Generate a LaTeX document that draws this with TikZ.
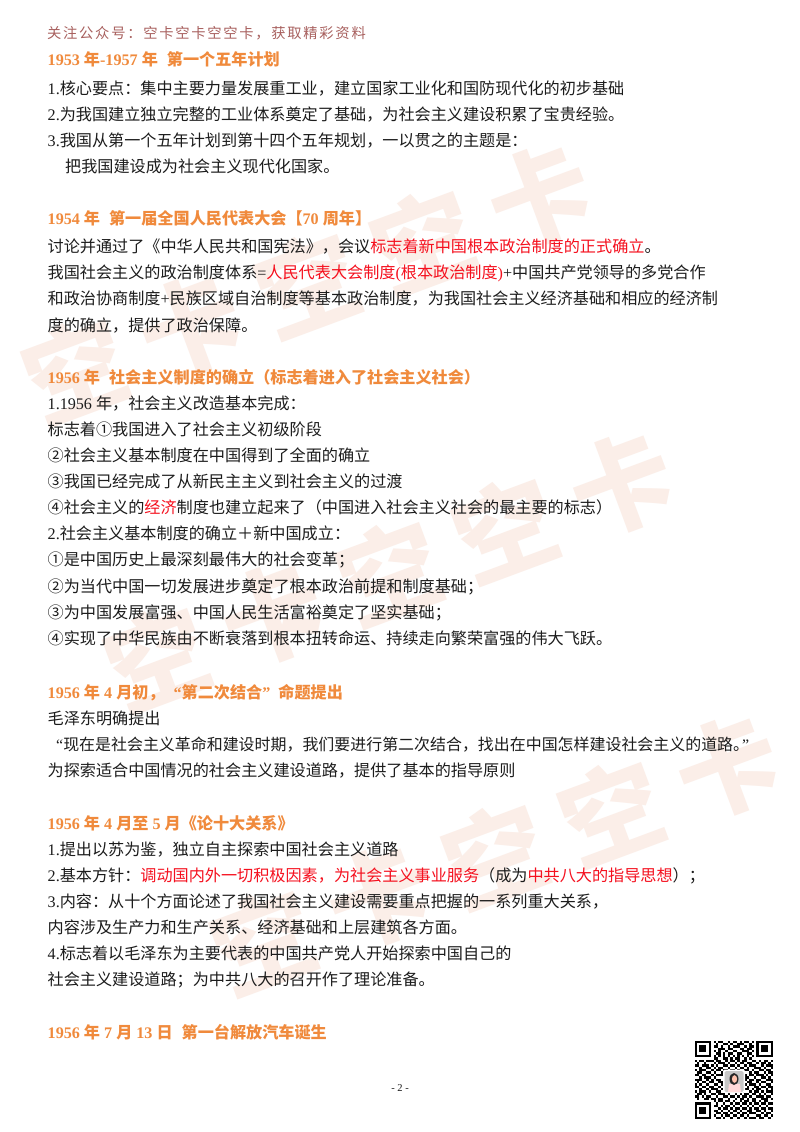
\documentclass[tikz,border=0pt]{standalone}
\usepackage{fontspec}
\setmainfont{Noto Sans CJK SC}
\newfontfamily\latin{Liberation Serif}
\newfontfamily\hdfont[LetterSpace=12]{Noto Sans CJK SC}
\newfontfamily\wmfont{Noto Sans CJK SC Black}
\newcommand\E[1]{{\latin #1}}
\newcommand\G{\hspace{9pt}}
\definecolor{hdcol}{HTML}{F08A3C}
\definecolor{redcol}{HTML}{F5101E}
\definecolor{bodycol}{HTML}{1C1C1C}
\definecolor{wmcol}{HTML}{FBEEE8}
\definecolor{topcol}{HTML}{A8605E}
\newcommand\R[1]{\textcolor{redcol}{#1}}
\tikzset{
  bodytext/.style={anchor=base west,inner sep=0pt,text=bodycol,font=\fontsize{16.13}{16}\selectfont},
  tightline/.style={anchor=base west,inner sep=0pt,text=bodycol,font=\fontsize{15.95}{16}\selectfont},
  headtext/.style={anchor=base west,inner sep=0pt,text=hdcol,font=\fontsize{16.13}{16}\selectfont\bfseries},
  toptext/.style={anchor=base west,inner sep=0pt,text=topcol,font=\fontsize{14.3}{16}\selectfont\hdfont},
  pagenum/.style={anchor=base,inner sep=0pt,text=bodycol,font=\fontsize{10.5}{12}\selectfont\latin},
  wmtext/.style={anchor=center,inner sep=0pt,text=wmcol,rotate=20.4,font=\fontsize{102}{110}\selectfont\wmfont}
}
\newcount\qrx \newcount\qry
\def\qrrow#1{\qrx=0 \qrscan#1;\advance\qry by 1 }
\def\qrscan#1{\ifx#1;\else\if#11\fill[black] (\the\qrx,\the\qry) rectangle ++(1,1);\fi\advance\qrx by 1 \expandafter\qrscan\fi}
\begin{document}
\begin{tikzpicture}[x=1pt,y=-1pt]
\useasboundingbox (0,0) rectangle (800,1132);
\fill[white] (0,0) rectangle (800,1132);
% watermarks: three rows of five large rotated glyphs
\foreach \rw/\mx/\my in {1/307/283,2/389/571,3/495/854}
  \foreach \k/\ch in {1/空,2/卡,3/空,4/空,5/卡}
    \node[wmtext] (wm\rw\k) at ({\mx+(\k-3)*116.2},{\my-(\k-3)*43.2}) {\ch};
% text
\node[toptext] (top) at (47,39) {关注公众号：空卡空卡空空卡，获取精彩资料};
\node[headtext] (h1) at (47.5,66) {\E{1953 }年\E{-1957 }年\G 第一个五年计划};
\node[bodytext] (a1) at (47.5,94) {\E{1.}核心要点：集中主要力量发展重工业，建立国家工业化和国防现代化的初步基础};
\node[bodytext] (a2) at (47.5,120) {\E{2.}为我国建立独立完整的工业体系奠定了基础，为社会主义建设积累了宝贵经验。};
\node[bodytext] (a3) at (47.5,146) {\E{3.}我国从第一个五年计划到第十四个五年规划，一以贯之的主题是：};
\node[bodytext] (a4) at (65,172) {把我国建设成为社会主义现代化国家。};
\node[headtext] (h2) at (47.5,224) {\E{1954 }年\G 第一届全国人民代表大会【\E{70 }周年】};
\node[bodytext] (b1) at (47.5,252) {讨论并通过了《中华人民共和国宪法》，会议\R{标志着新中国根本政治制度的正式确立}。};
\node[bodytext] (b2) at (47.5,278) {我国社会主义的政治制度体系\E{=}\R{人民代表大会制度\E{(}根本政治制度\E{)}}\E{+}中国共产党领导的多党合作};
\node[bodytext] (b3) at (47.5,304) {和政治协商制度\E{+}民族区域自治制度等基本政治制度，为我国社会主义经济基础和相应的经济制};
\node[bodytext] (b4) at (47.5,331) {度的确立，提供了政治保障。};
\node[headtext] (h3) at (47.5,383) {\E{1956 }年\G 社会主义制度的确立（标志着进入了社会主义社会）};
\node[bodytext] (c1) at (47.5,409) {\E{1.1956 }年，社会主义改造基本完成：};
\node[bodytext] (c2) at (47.5,435) {标志着①我国进入了社会主义初级阶段};
\node[bodytext] (c3) at (47.5,461) {②社会主义基本制度在中国得到了全面的确立};
\node[bodytext] (c4) at (47.5,487) {③我国已经完成了从新民主主义到社会主义的过渡};
\node[bodytext] (c5) at (47.5,513) {④社会主义的\R{经济}制度也建立起来了（中国进入社会主义社会的最主要的标志）};
\node[bodytext] (c6) at (47.5,539) {\E{2.}社会主义基本制度的确立＋新中国成立：};
\node[bodytext] (c7) at (47.5,565) {①是中国历史上最深刻最伟大的社会变革；};
\node[bodytext] (c8) at (47.5,592) {②为当代中国一切发展进步奠定了根本政治前提和制度基础；};
\node[bodytext] (c9) at (47.5,618) {③为中国发展富强、中国人民生活富裕奠定了坚实基础；};
\node[bodytext] (c10) at (47.5,644) {④实现了中华民族由不断衰落到根本扭转命运、持续走向繁荣富强的伟大飞跃。};
\node[headtext] (h4) at (47.5,698) {\E{1956 }年\E{ 4 }月初，\hspace{9pt}\E{“}第二次结合\E{”}\hspace{8pt}命题提出};
\node[bodytext] (d1) at (47.5,724) {毛泽东明确提出};
\node[tightline] (d2) at (56,750) {\E{“}现在是社会主义革命和建设时期，我们要进行第二次结合，找出在中国怎样建设社会主义的道路。\hspace{-7pt}\E{”}};
\node[bodytext] (d3) at (47.5,776) {为探索适合中国情况的社会主义建设道路，提供了基本的指导原则};
\node[headtext] (h5) at (47.5,829) {\E{1956 }年\E{ 4 }月至\E{ 5 }月《论十大关系》};
\node[bodytext] (e1) at (47.5,855) {\E{1.}提出以苏为鉴，独立自主探索中国社会主义道路};
\node[bodytext] (e2) at (47.5,881) {\E{2.}基本方针：\R{调动国内外一切积极因素，为社会主义事业服务}（成为\R{中共八大的指导思想}）；};
\node[bodytext] (e3) at (47.5,907) {\E{3.}内容：从十个方面论述了我国社会主义建设需要重点把握的一系列重大关系，};
\node[bodytext] (e4) at (47.5,933) {内容涉及生产力和生产关系、经济基础和上层建筑各方面。};
\node[bodytext] (e5) at (47.5,959) {\E{4.}标志着以毛泽东为主要代表的中国共产党人开始探索中国自己的};
\node[bodytext] (e6) at (47.5,985) {社会主义建设道路；为中共八大的召开作了理论准备。};
\node[headtext] (h6) at (47.5,1038) {\E{1956 }年\E{ 7 }月\E{ 13 }日\G 第一台解放汽车诞生};
\node[pagenum] (pg) at (400,1091) {- 2 -};
% QR code
\begin{scope}[shift={(694.5,1040.5)},x=2.38pt,y=-2.38pt]
\qry=0
\qrrow{1111111 0 10110010110101101 0 1111111}
\qrrow{1000001 0 01001101001110010 0 1000001}
\qrrow{1011101 0 11010010111001011 0 1011101}
\qrrow{1011101 0 00111011000110110 0 1011101}
\qrrow{1011101 0 10100100110011101 0 1011101}
\qrrow{1000001 0 01101011001100110 0 1000001}
\qrrow{1111111 0 10101010101010101 0 1111111}
\qrrow{00000000 11001101011001010 00000000}
\qrrow{101101110110010110101100110101101}
\qrrow{010010001011101001011011001011010}
\qrrow{110111010100110110100101110010111}
\qrrow{001001101011001001011010011101001}
\qrrow{101110010110110110100110100110110}
\qrrow{011001101001011011011001011001011}
\qrrow{110110010111000000000101101110101}
\qrrow{001011101000100000000110010011010}
\qrrow{111001010110100000000101101100111}
\qrrow{010110110011000000000011001011001}
\qrrow{101001001101100000000101110100110}
\qrrow{110110110010101001101010011011011}
\qrrow{001001011101011010010110101100101}
\qrrow{101110100110010110101001011010111}
\qrrow{011010011011101001010110110101001}
\qrrow{110101100100110110101101001110110}
\qrrow{010011011011001001011010110011101}
\qrrow{00000000 10110110100101101 1010 1100}
\qrrow{1111111 0 01001001011011010 11011011}
\qrrow{1000001 0 11010110100100101 00100100}
\qrrow{1011101 0 00101101011011010 11011011}
\qrrow{1011101 0 11010010110100110 01101001}
\qrrow{1011101 0 01101101001011011 10010110}
\qrrow{1000001 0 10010110110110100 01101101}
\qrrow{1111111 0 01101001001001011 10110010}
\end{scope}
% portrait in QR code
\fill[white,rounded corners=2pt] (723,1069.5) rectangle (745,1093);
\fill[black!22,rounded corners=1.5pt] (724.5,1071) rectangle (743.5,1092);
\fill[pink!60!white] (728,1092) -- (729,1084) -- (740,1084) -- (741,1092) -- cycle;
\fill[black!85] (734,1079) ellipse (4.5 and 6);
\fill[orange!20!pink!80!white] (734.5,1079) ellipse (2.6 and 3.8);
\end{tikzpicture}
\end{document}
